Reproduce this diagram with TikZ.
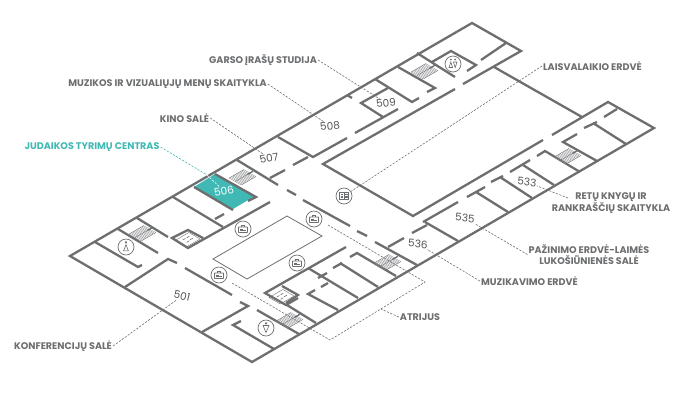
\documentclass[tikz,border=0pt]{standalone}
\usepackage{fontspec}
\setmainfont{Poppins}
\usepackage{xcolor}
\usetikzlibrary{arrows}
\definecolor{plangray}{HTML}{6D6E70}
\definecolor{planteal}{HTML}{40B9B5}
\tikzset{
	wall/.style={draw=plangray,line width=2.3pt,miter limit=4},
	thinwall/.style={draw=plangray,line width=0.8pt},
	leader/.style={draw=plangray,line width=0.6pt,dash pattern=on 2.2pt off 1.4pt},
	tag/.style={text=plangray,font=\fontsize{9.6}{11}\selectfont\bfseries,align=center,inner sep=1pt},
	roomno/.style={text=plangray!75!black,font=\fontsize{10.5}{12}\selectfont,inner sep=0.5pt},
	ring/.style={circle,draw=plangray,line width=0.7pt,minimum size=16pt,inner sep=0pt},
	iso/.style={x={(0.866pt,0.5pt)},y={(0.866pt,-0.5pt)}},
	stairs/.pic={
		\begin{scope}[iso]
		\foreach \s in {-9,-7.6,...,8}
		\draw[plangray!80,line width=0.35pt] (\s,-7) -- (\s,7);
		\draw[plangray,line width=0.35pt] (-9,0) -- (12,0);
		\draw[plangray,line width=1.3pt] (5,0) -- (11,0);
		\draw[plangray,line width=0.35pt] (-9,-7) -- (8,-7) (-9,7) -- (8,7);
		\end{scope}
	},
	liftcar/.pic={
		\begin{scope}[iso]
		\draw[plangray,line width=0.4pt] (-9,-6) -- (7,-6) -- (7,7) -- (-9,7) -- cycle;
		\draw[plangray,line width=0.6pt] (-4,-2) -- (-1,-2) (0.5,2) -- (3.5,2) (-4,2.5) -- (-1,2.5) (0.5,-2) -- (3.5,-2);
		\end{scope}
	},
	showcase/.pic={
		\draw[plangray,line width=0.9pt,rounded corners=0.5pt] (-4.5,-2) rectangle (4.5,3.5);
		\draw[plangray,line width=0.9pt] (-1.5,-2) -- (-1.5,-4) -- (1.5,-4) -- (1.5,-2);
		\draw[plangray,line width=0.6pt] (-2.8,1) -- (2.8,1) (-2.8,-0.2) -- (0,-0.2);
	},
	openbook/.pic={
		\draw[plangray,line width=0.6pt] (-4.5,-3.5) rectangle (4.5,3.5) (0,-3.5) -- (0,3.5);
		\draw[plangray,line width=0.5pt] (-3.5,-1.5) -- (-1,-1.5) (-3.5,0) -- (-1,0) (-3.5,1.5) -- (-1,1.5) (3.5,-1.5) -- (1,-1.5) (3.5,0) -- (1,0) (3.5,1.5) -- (1,1.5);
	},
	manfig/.pic={
		\fill[plangray] (0,-4.6) circle (1.2pt);
		\draw[plangray,line width=0.6pt] (-3,3.8) -- (3,3.8) (-2.3,3.8) -- (0,-2.5) -- (2.3,3.8);
	},
	ladyfig/.pic={
		\fill[plangray] (0,-4.6) circle (1.2pt);
		\draw[plangray,line width=0.6pt] (-3,-2.5) -- (3,-2.5) -- (0,4.5) -- cycle;
	},
	wcfig/.pic={
		\fill[plangray] (-2.2,-4.5) circle (1pt) (2.2,-4.5) circle (1pt);
		\draw[plangray,line width=0.6pt] (-4,3.5) -- (-2.2,-2) -- (-0.4,3.5) -- cycle (0.4,-2) -- (4,-2) -- (2.2,3.5) -- cycle;
	}
}
\begin{document}
\begin{tikzpicture}[x=1pt,y=-1pt]
		\useasboundingbox (0,0) rectangle (700,400);
		%
		\fill[planteal] (194,187) -- (215,174) -- (255,196) -- (233,209) -- cycle;
		%
		% outer walls
		\draw[wall] (463,84) -- (521,51) -- (472,23) -- (70,256) -- (252,362) -- (654,128) -- (608,102) -- (552,135);
		\draw[wall] (494,67) -- (582,117);
		\draw[wall] (543,140) -- (413,216) -- (323,164) -- (455,89);
		%
		% upper wing
		\draw[wall] (506,43) -- (481,60);
		\draw[wall] (417,53) -- (455,77);
		\draw[wall] (432,62) -- (451,51) -- (476,65) -- (467,71);
		\draw[wall] (398,67) -- (435,88) -- (427,92);
		\draw[wall] (375,79) -- (412,102) -- (419,98);
		\draw[wall] (388,88) -- (361,103) -- (383,117);
		\draw[wall] (398,109) -- (355,133);
		\draw[wall] (347,95) -- (352,98);
		\draw[wall] (347,138) -- (313,157) -- (278,137);
		\draw[wall] (308,157) -- (293,165);
		\draw[wall] (285,170) -- (270,178);
		\draw[wall] (237,160) -- (278,185);
		\draw[wall] (215,174) -- (256,197) -- (248,201);
		\draw[wall] (194,187) -- (233,210);
		\draw[wall] (270,202) -- (188,248) -- (172,238) -- (188,230) -- (203,238);
		\draw[wall] (173,197) -- (223,227);
		\draw[wall] (215,219) -- (224,214);
		\draw[wall] (137,218) -- (168,237);
		\draw[wall] (118,229) -- (158,253);
		\draw[wall] (95,242) -- (138,267) -- (142,265);
		%
		% corridor
		\draw[wall] (125,287) -- (168,259) -- (177,263);
		\draw[wall] (185,268) -- (232,295);
		\draw[wall] (240,302) -- (248,306) -- (202,332);
		\draw[wall] (287,190) -- (296,195);
		\draw[wall] (303,200) -- (350,226);
		\draw[wall] (357,231) -- (367,236);
		\draw[wall] (375,242) -- (417,265);
		\draw[wall] (388,247) -- (404,238);
		\draw[wall] (412,233) -- (427,225);
		%
		% lower rooms
		\draw[wall] (241,321) -- (233,325) -- (274,349);
		\draw[wall] (257,310) -- (299,334);
		\draw[wall] (346,247) -- (265,293) -- (286,305) -- (298,298);
		\draw[wall] (282,286) -- (298,295) -- (286,303);
		\draw[wall] (287,305) -- (316,323);
		\draw[wall] (315,290) -- (308,294) -- (338,310);
		\draw[wall] (308,268) -- (358,298);
		\draw[wall] (327,273) -- (318,278);
		\draw[wall] (328,283) -- (321,287);
		\draw[wall] (342,263) -- (333,268);
		\draw[wall] (340,263) -- (378,287);
		\draw[wall] (350,257) -- (357,253) -- (396,276);
		%
		% right wing
		\draw[wall] (423,222) -- (458,202);
		\draw[wall] (425,222) -- (458,241);
		\draw[wall] (467,197) -- (485,187);
		\draw[wall] (476,192) -- (508,212);
		\draw[wall] (491,182) -- (503,176);
		\draw[wall] (500,177) -- (532,198);
		\draw[wall] (510,172) -- (530,160);
		\draw[wall] (523,165) -- (554,185);
		\draw[wall] (537,156) -- (545,151) -- (580,172);
		\draw[wall] (577,134) -- (563,142) -- (597,161);
		\draw[wall] (584,128) -- (597,122);
		\draw[wall] (593,123) -- (626,144);
		\draw[wall] (617,109) -- (604,117);
		%
		\draw[thinwall] (287,216) -- (322,236) -- (247,279) -- (213,259) -- cycle;
		\draw[leader] (328,225) -- (425,282) -- (330,340) -- (232,283);
		%
		\pic at (243,177) {stairs};
		\pic at (143,233) {stairs};
		\pic at (388,262) {stairs};
		\pic at (290,320) {stairs};
		\pic at (425,71) {stairs};
		\pic at (568,156) {stairs};
		\pic at (188,239) {liftcar};
		\pic at (282,296) {liftcar};
		%
		\node[ring] (book) at (344,196) {};
		\node[ring] (show1) at (243,229) {};
		\node[ring] (show2) at (314,219) {};
		\node[ring] (show3) at (297,263) {};
		\node[ring] (show4) at (219,275) {};
		\node[ring] (man) at (126,247) {};
		\node[ring] (lady) at (266,328) {};
		\node[ring] (wc) at (453,64) {};
		\pic at (book) {openbook};
		\pic at (show1) {showcase};
		\pic at (show2) {showcase};
		\pic at (show3) {showcase};
		\pic at (show4) {showcase};
		\pic at (man) {manfig};
		\pic at (lady) {ladyfig};
		\pic at (wc) {wcfig};
		%
		\node[roomno,rotate=-14] (r501) at (182,296) {501};
		\node[roomno,rotate=10,text=white] (r506) at (224,191) {506};
		\node[roomno,rotate=10] (r507) at (269,158) {507};
		\node[roomno,rotate=5] (r508) at (330,126) {508};
		\node[roomno,rotate=6] (r509) at (386,103) {509};
		\node[roomno,rotate=-6] (r533) at (527,182) {533};
		\node[roomno,rotate=-6] (r535) at (465,218) {535};
		\node[roomno,rotate=-5] (r536) at (418,244) {536};
		%
		\node[tag,text=planteal] (judaikos) at (92,147) {JUDAIKOS TYRIMŲ CENTRAS};
		\node[tag] (kino) at (184.5,118) {KINO SALĖ};
		\node[tag] (vizual) at (167.5,84) {MUZIKOS IR VIZUALIŲJŲ MENŲ SKAITYKLA};
		\node[tag] (garso) at (263,60) {GARSO ĮRAŠŲ STUDIJA};
		\node[tag] (laisv) at (592.5,66) {LAISVALAIKIO ERDVĖ};
		\node[tag] (retu) at (611,203.5) {RETŲ KNYGŲ IR\\RANKRAŠČIŲ SKAITYKLA};
		\node[tag] (pazin) at (589,254.5) {PAŽINIMO ERDVĖ-LAIMĖS\\LUKOŠIŪNIENĖS SALĖ};
		\node[tag] (muzik) at (529.5,281) {MUZIKAVIMO ERDVĖ};
		\node[tag] (atrijus) at (420,317) {ATRIJUS};
		\node[tag] (konf) at (63,346) {KONFERENCIJŲ SALĖ};
		%
		\coordinate (atrend) at (381,309);
		\coordinate (retuend) at (568,198);
		\coordinate (tealend) at (207,175);
		%
		\path[leader]
		(kino.east) edge (r507)
		(vizual.east) edge (r508)
		(garso.east) edge (r509)
		(laisv.west) edge (book)
		(retuend) edge (r533)
		(pazin.west) edge (r535)
		(muzik.west) edge (r536)
		(atrijus.west) edge (atrend)
		(konf.east) edge (r501);
		\draw[leader,draw=planteal] (judaikos.east) -- (tealend);
		\draw[leader,draw=white] (tealend) -- (r506);
		\end{tikzpicture}
\end{document}
